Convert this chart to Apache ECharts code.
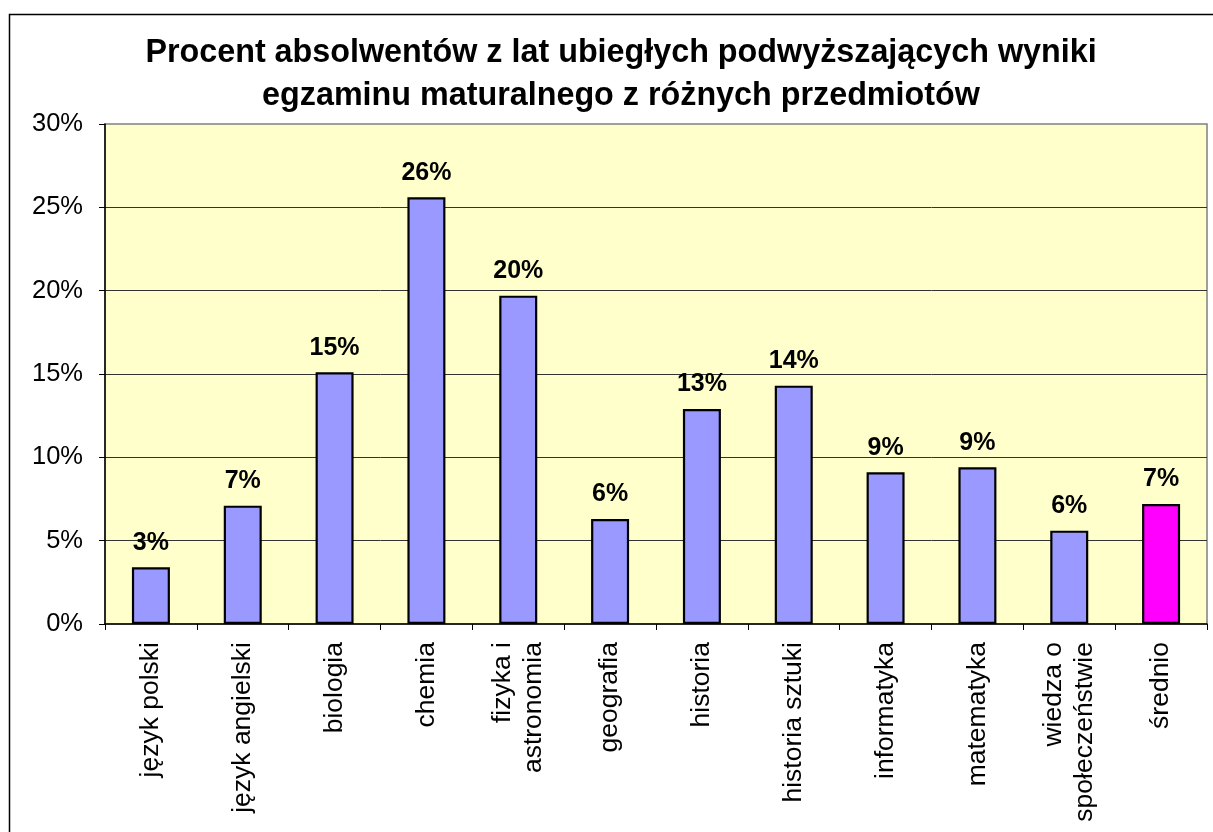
<!DOCTYPE html>
<html>
<head>
<meta charset="utf-8">
<script src="https://cdn.jsdelivr.net/npm/echarts@6/dist/echarts.min.js"></script>
<style>
  html, body { margin: 0; padding: 0; background: #fff; }
  #chart { width: 1213px; height: 832px; }
</style>
</head>
<body>
<div id="chart"></div>
<script>
  var categories = ['język polski', 'język angielski', 'biologia', 'chemia', 'fizyka i\nastronomia',
    'geografia', 'historia', 'historia sztuki', 'informatyka', 'matematyka',
    'wiedza o\nspołeczeństwie', 'średnio'];
  // percent of graduates
  var values = [3.4, 7.1, 15.1, 25.6, 19.7, 6.3, 12.9, 14.3, 9.1, 9.4, 5.6, 7.2];
  var yTicks = [0, 5, 10, 15, 20, 25, 30];

  var barColor = '#9999FF';
  var avgColor = '#FF00FF';
  var font = '"Liberation Sans", Arial, sans-serif';

  var chart = echarts.init(document.getElementById('chart'));

  var seriesData = values.map(function (v, i) {
    return {
      value: v,
      itemStyle: { color: i === values.length - 1 ? avgColor : barColor }
    };
  });

  chart.setOption({
    backgroundColor: '#fff',
    animation: false,
    title: {
      text: 'Procent absolwentów z lat ubiegłych podwyższających wyniki\negzaminu maturalnego z różnych przedmiotów',
      left: 616,
      textAlign: 'center',
      top: 27,
      textStyle: {
        fontFamily: font,
        fontWeight: 'bold',
        fontSize: 32.3,
        lineHeight: 43,
        color: '#000'
      }
    },
    graphic: [{
      type: 'rect',
      shape: { x: 9.5, y: 14.5, width: 1215, height: 830 },
      style: { fill: 'none', stroke: '#000', lineWidth: 1.5 },
      silent: true
    }],
    grid: {
      left: 105,
      right: 6,
      top: 124,
      bottom: 208,
      show: true,
      backgroundColor: '#FFFFCC',
      borderColor: '#808080',
      borderWidth: 1.5
    },
    xAxis: {
      type: 'category',
      data: categories,
      axisLine: { lineStyle: { color: '#000', width: 1.5 } },
      axisTick: { show: true, length: 6, alignWithLabel: false, lineStyle: { color: '#000' } },
      axisLabel: {
        interval: 0,
        rotate: 90,
        margin: 18,
        fontFamily: font,
        fontSize: 26.5,
        lineHeight: 31,
        color: '#000'
      }
    },
    yAxis: {
      type: 'value',
      min: 0,
      max: 30,
      interval: 5,
      axisLine: { show: true, lineStyle: { color: '#000', width: 1.5 } },
      axisTick: { show: true, length: 6, lineStyle: { color: '#000' } },
      axisLabel: {
        margin: 22,
        fontFamily: font,
        fontSize: 25.5,
        color: '#000',
        formatter: function (v) { return yTicks.indexOf(v) >= 0 ? v + '%' : ''; }
      },
      splitLine: {
        show: true,
        showMinLine: false,
        showMaxLine: false,
        lineStyle: { color: '#333', width: 1 }
      }
    },
    series: [{
      type: 'bar',
      data: seriesData,
      barWidth: 38,
      itemStyle: { borderColor: '#000', borderWidth: 2.2 },
      label: {
        show: true,
        position: 'top',
        distance: 12,
        fontFamily: font,
        fontWeight: 'bold',
        fontSize: 25,
        color: '#000',
        formatter: function (p) { return Math.round(p.value) + '%'; }
      }
    }]
  });
</script>
</body>
</html>
